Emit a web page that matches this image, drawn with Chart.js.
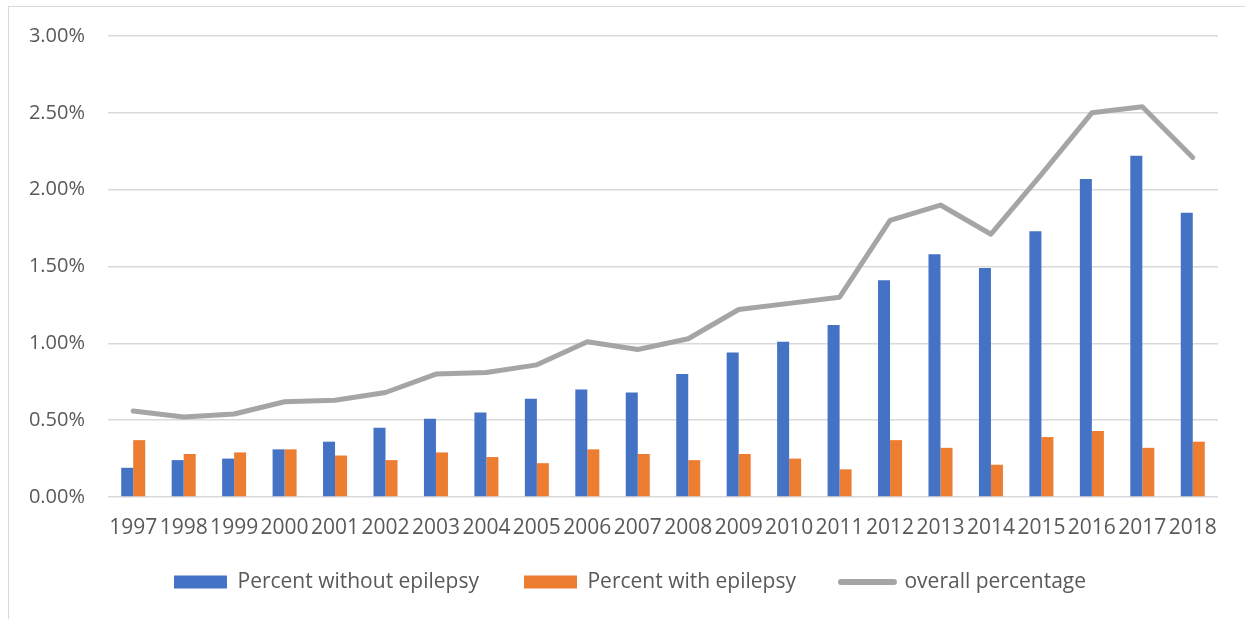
<!DOCTYPE html>
<html>
<head>
<meta charset="utf-8">
<script src="https://cdn.jsdelivr.net/npm/chart.js@4/dist/chart.umd.min.js"></script>
<style>
  html, body { margin: 0; padding: 0; background: #ffffff; }
  #wrap { position: relative; width: 1245px; height: 619px; overflow: hidden; }
  #frame { position: absolute; left: 8px; top: 6px; right: -4px; bottom: -4px;
           border-left: 1.5px solid #d9d9d9; border-top: 1.5px solid #d9d9d9; pointer-events: none; }
  canvas { position: absolute; left: 0; top: 0; }
</style>
</head>
<body>
<div id="wrap">
  <canvas id="chart" width="1245" height="619"></canvas>
  <div id="frame"></div>
</div>
<script>
// Years on the category axis
const years = ['1997','1998','1999','2000','2001','2002','2003','2004','2005','2006','2007',
               '2008','2009','2010','2011','2012','2013','2014','2015','2016','2017','2018'];

// Percentages (in %) per year
const percentWithoutEpilepsy = [0.19, 0.24, 0.25, 0.31, 0.36, 0.45, 0.51, 0.55, 0.64, 0.70, 0.68,
                                0.80, 0.94, 1.01, 1.12, 1.41, 1.58, 1.49, 1.73, 2.07, 2.22, 1.85];
const percentWithEpilepsy    = [0.37, 0.28, 0.29, 0.31, 0.27, 0.24, 0.29, 0.26, 0.22, 0.31, 0.28,
                                0.24, 0.28, 0.25, 0.18, 0.37, 0.32, 0.21, 0.39, 0.43, 0.32, 0.36];
const overallPercentage      = [0.56, 0.52, 0.54, 0.62, 0.63, 0.68, 0.80, 0.81, 0.86, 1.01, 0.96,
                                1.03, 1.22, 1.26, 1.30, 1.80, 1.90, 1.71, 2.10, 2.50, 2.54, 2.21];

// Value axis ticks
const yTickValues = [0, 0.5, 1.0, 1.5, 2.0, 2.5, 3.0];

const seriesNames = ['Percent without epilepsy', 'Percent with epilepsy', 'overall percentage'];

const TEXT = '#595959';
const GRID = '#d9d9d9';
const FONT = "'Open Sans', 'Liberation Sans', sans-serif";

// Nudge the legend block after layout so it sits closer under the year labels
const legendNudge = {
  id: 'legendNudge',
  afterLayout(chart) {
    const lg = chart.legend;
    if (!lg) return;
    const dy = -13.5, dx = 21;
    lg.top += dy; lg.bottom += dy;
    lg.left += dx; lg.right += dx;
  }
};

new Chart(document.getElementById('chart'), {
  data: {
    labels: years,
    datasets: [
      {
        type: 'bar', label: seriesNames[0], data: percentWithoutEpilepsy,
        backgroundColor: '#4472c4', borderWidth: 0, order: 2,
        categoryPercentage: 0.476, barPercentage: 1.0, pointStyle: 'rect'
      },
      {
        type: 'bar', label: seriesNames[1], data: percentWithEpilepsy,
        backgroundColor: '#ed7d31', borderWidth: 0, order: 2,
        categoryPercentage: 0.476, barPercentage: 1.0, pointStyle: 'rect'
      },
      {
        type: 'line', label: seriesNames[2], data: overallPercentage,
        borderColor: '#a5a5a5', backgroundColor: '#a5a5a5', borderWidth: 5,
        borderJoinStyle: 'round', borderCapStyle: 'round',
        pointRadius: 0, pointHoverRadius: 0, tension: 0, fill: false, order: 1,
        pointStyle: 'line'
      }
    ]
  },
  options: {
    responsive: false,
    animation: false,
    devicePixelRatio: 1,
    layout: { padding: { left: 0, right: 27, top: 36, bottom: 3 } },
    plugins: {
      tooltip: { enabled: false },
      legend: {
        position: 'bottom',
        labels: {
          usePointStyle: true,
          pointStyleWidth: 53,
          boxHeight: 13,
          padding: 45,
          color: TEXT,
          font: { family: FONT, size: 21 },
          sort: (a, b) => a.datasetIndex - b.datasetIndex,
          generateLabels(chart) {
            const items = Chart.defaults.plugins.legend.labels.generateLabels(chart);
            items.forEach(it => {
              const ds = chart.data.datasets[it.datasetIndex];
              if (ds.type === 'line') {
                it.pointStyle = 'line';
                it.lineWidth = 6;
                it.strokeStyle = '#a5a5a5';
                it.lineCap = 'round';
              } else {
                it.pointStyle = 'rect';
                it.lineWidth = 0;
              }
            });
            return items;
          }
        }
      }
    },
    scales: {
      x: {
        grid: { display: false, drawTicks: false },
        border: { display: false },
        ticks: { color: TEXT, font: { family: FONT, size: 21 }, padding: 18, maxRotation: 0, autoSkip: false },
        afterFit(scale) { scale.height = 43; }
      },
      y: {
        min: 0, max: 3,
        grid: { color: GRID, lineWidth: 1.5, drawTicks: false },
        border: { display: false },
        afterBuildTicks(scale) { scale.ticks = yTickValues.map(v => ({ value: v })); },
        ticks: {
          color: TEXT, font: { family: FONT, size: 20 }, padding: 23,
          callback: v => Number(v).toFixed(2) + '%'
        },
        afterFit(scale) { scale.width = 108; }
      }
    }
  },
  plugins: [legendNudge]
});
</script>
</body>
</html>
